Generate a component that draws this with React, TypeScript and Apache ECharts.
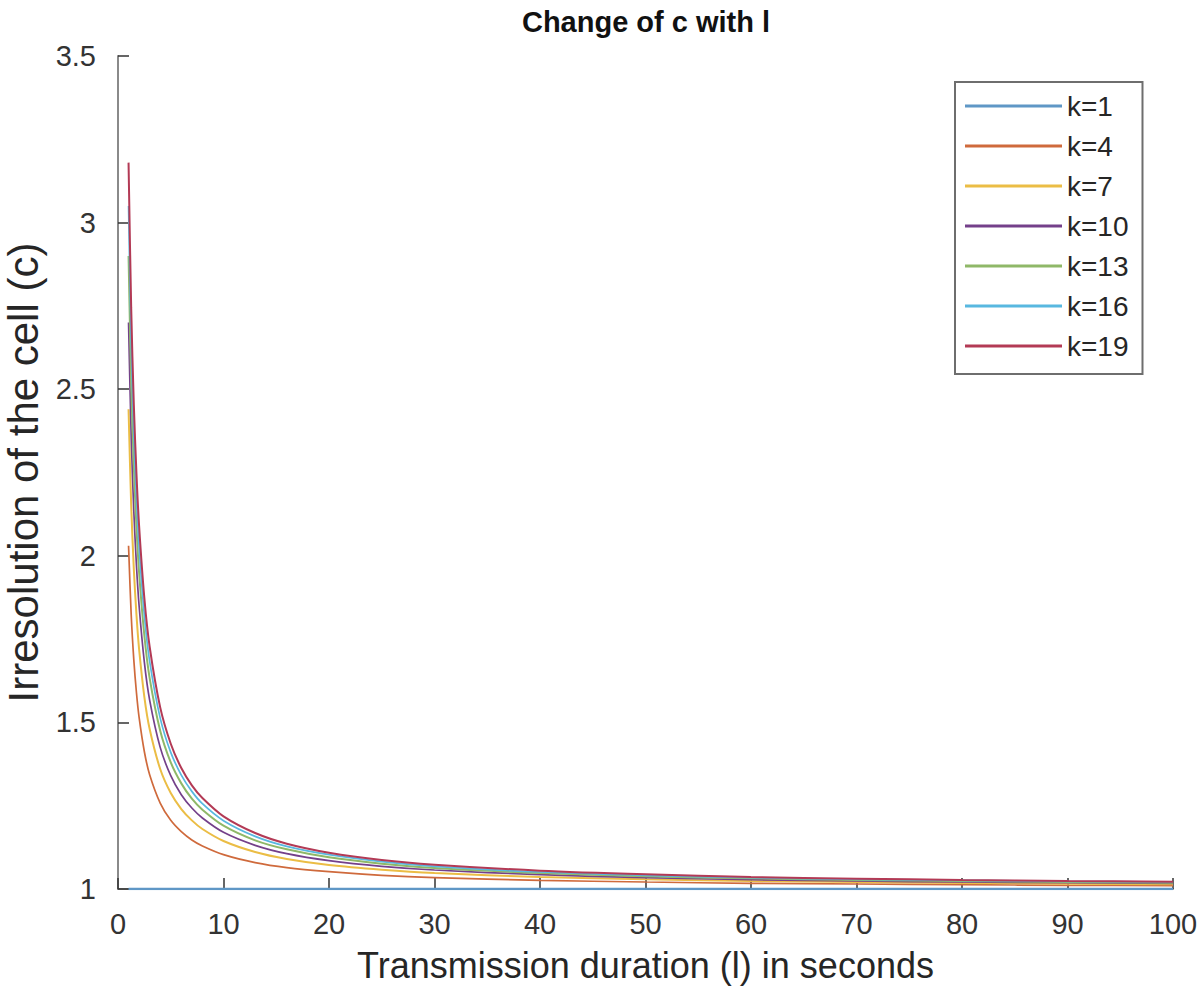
import React, { useEffect, useRef } from "react";
import * as echarts from "echarts";

const durations = [1, 1.25, 1.5, 1.75, 2, 2.5, 3, 4, 5, 6, 7, 8, 10, 13, 16, 20, 25, 30, 40, 50, 60, 70, 80, 90, 100];

const seriesNames = ["k=1", "k=4", "k=7", "k=10", "k=13", "k=16", "k=19"];

const k1 = [1, 1, 1, 1, 1, 1, 1, 1, 1, 1, 1, 1, 1, 1, 1, 1, 1, 1, 1, 1, 1, 1, 1, 1, 1];
const k4 = [2.03, 1.824, 1.687, 1.589, 1.515, 1.412, 1.343, 1.258, 1.206, 1.172, 1.147, 1.129, 1.103, 1.079, 1.064, 1.052, 1.041, 1.034, 1.026, 1.021, 1.017, 1.015, 1.013, 1.011, 1.01];
const k7 = [2.44, 2.152, 1.96, 1.823, 1.72, 1.576, 1.48, 1.36, 1.288, 1.24, 1.206, 1.18, 1.144, 1.111, 1.09, 1.072, 1.058, 1.048, 1.036, 1.029, 1.024, 1.021, 1.018, 1.016, 1.014];
const k10 = [2.7, 2.36, 2.133, 1.971, 1.85, 1.68, 1.567, 1.425, 1.34, 1.283, 1.243, 1.213, 1.17, 1.131, 1.106, 1.085, 1.068, 1.057, 1.043, 1.034, 1.028, 1.024, 1.021, 1.019, 1.017];
const k13 = [2.9, 2.52, 2.267, 2.086, 1.95, 1.76, 1.633, 1.475, 1.38, 1.317, 1.271, 1.238, 1.19, 1.146, 1.119, 1.095, 1.076, 1.063, 1.048, 1.038, 1.032, 1.027, 1.024, 1.021, 1.019];
const k16 = [3.05, 2.64, 2.367, 2.171, 2.025, 1.82, 1.683, 1.513, 1.41, 1.342, 1.293, 1.256, 1.205, 1.158, 1.128, 1.103, 1.082, 1.068, 1.051, 1.041, 1.034, 1.029, 1.026, 1.023, 1.021];
const k19 = [3.18, 2.744, 2.453, 2.246, 2.09, 1.872, 1.727, 1.545, 1.436, 1.363, 1.311, 1.273, 1.218, 1.168, 1.136, 1.109, 1.087, 1.073, 1.055, 1.044, 1.036, 1.031, 1.027, 1.024, 1.022];

const seriesValues = [k1, k4, k7, k10, k13, k16, k19];
const seriesColors = ["#5f97c6", "#cf6a3c", "#ebbd45", "#74408a", "#8fb868", "#58b8e0", "#b33a55"];
const seriesWidths = [2.5, 1.7, 2, 1.7, 2, 1.7, 2];

const FONT = "'Liberation Sans', Arial, Helvetica, sans-serif";

export default function App() {
  const ref = useRef<HTMLDivElement>(null);

  useEffect(() => {
    if (!ref.current) return;
    const chart = echarts.init(ref.current, undefined, { renderer: "svg" });

    const series = seriesNames.map((name, i) => ({
      name,
      type: "line",
      data: durations.map((d, j) => [d, seriesValues[i][j]]),
      symbol: "none",
      showSymbol: false,
      smooth: 0.3,
      lineStyle: { color: seriesColors[i], width: seriesWidths[i] },
      itemStyle: { color: seriesColors[i] },
      z: 3,
    }));

    const legendData = seriesNames.map((name, i) => ({
      name,
      icon: "rect",
      itemStyle: { color: seriesColors[i] },
    }));

    chart.setOption({
      animation: false,
      backgroundColor: "#ffffff",
      textStyle: { fontFamily: FONT },
      title: {
        text: "Change of c with l",
        left: 646,
        top: 7,
        padding: 0,
        textAlign: "center",
        textStyle: { fontFamily: FONT, fontSize: 29, fontWeight: "bold", color: "#111111" },
      },
      grid: {
        left: 118,
        top: 56,
        width: 1055,
        height: 833,
        containLabel: false,
        outerBoundsMode: "none",
      },
      legend: {
        orient: "vertical",
        left: 955,
        top: 82,
        padding: [10, 14, 14, 10],
        itemWidth: 97,
        itemHeight: 3,
        itemGap: 12,
        backgroundColor: "#ffffff",
        borderColor: "#6e6e6e",
        borderWidth: 2,
        data: legendData,
        textStyle: { fontFamily: FONT, fontSize: 28, color: "#262626", lineHeight: 28 },
      },
      xAxis: {
        type: "value",
        min: 0,
        max: 100,
        interval: 10,
        name: "Transmission duration (l) in seconds",
        nameLocation: "middle",
        nameGap: 58,
        nameTextStyle: { fontFamily: FONT, fontSize: 36, color: "#262626" },
        axisLine: { show: true, lineStyle: { color: "#8a8a8a", width: 2 } },
        axisTick: { show: true, inside: true, length: 11, lineStyle: { color: "#333333", width: 1.5 } },
        axisLabel: { fontFamily: FONT, fontSize: 29, color: "#333333", margin: 20, showMinLabel: true, showMaxLabel: true },
        splitLine: { show: false },
      },
      yAxis: {
        type: "value",
        min: 1,
        max: 3.5,
        interval: 0.5,
        name: "Irresolution of the cell (c)",
        nameLocation: "middle",
        nameGap: 72,
        nameTextStyle: { fontFamily: FONT, fontSize: 42, color: "#262626" },
        axisLine: { show: true, lineStyle: { color: "#8a8a8a", width: 2 } },
        axisTick: { show: true, inside: true, length: 11, lineStyle: { color: "#333333", width: 1.5 } },
        axisLabel: { fontFamily: FONT, fontSize: 29, color: "#333333", margin: 22, showMinLabel: true, showMaxLabel: true },
        splitLine: { show: false },
      },
      series,
    });

    return () => chart.dispose();
  }, []);

  return (
    <div
      ref={ref}
      style={{ position: "fixed", left: 0, top: 0, width: "1201px", height: "988px", background: "#ffffff" }}
    />
  );
}
